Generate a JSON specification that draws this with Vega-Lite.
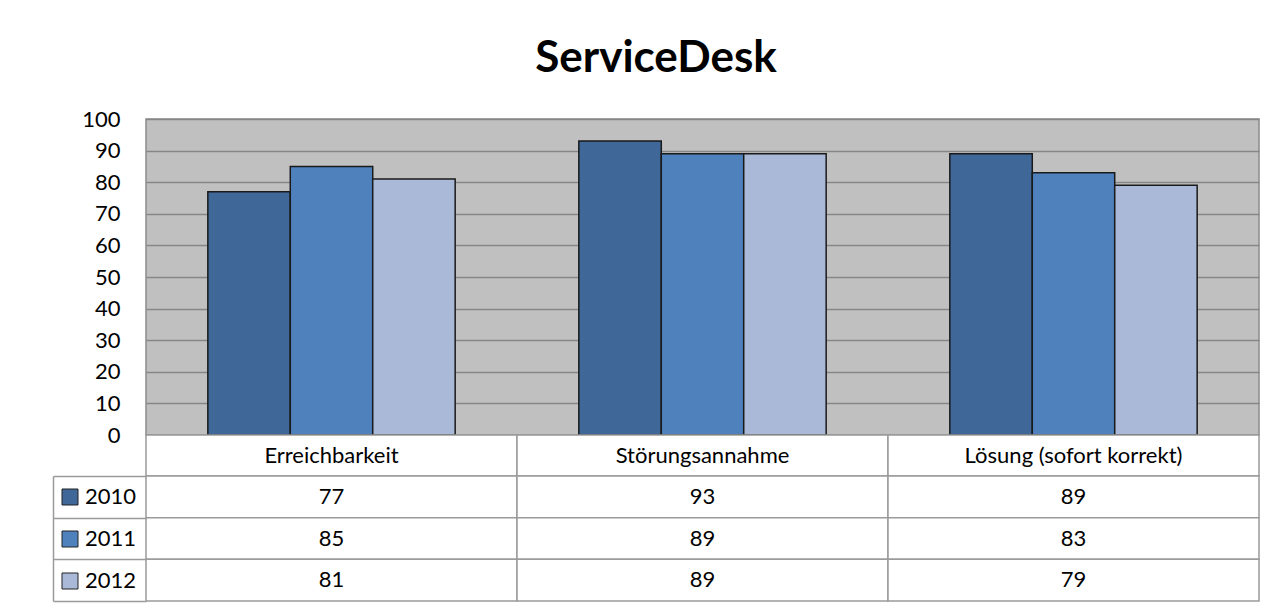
{
  "$schema": "https://vega.github.io/schema/vega-lite/v6.json",
  "background": "white",
  "padding": {"left": 52, "top": 37, "right": 5, "bottom": 5},
  "spacing": 0,
  "bounds": "flush",
  "title": {"text": "ServiceDesk", "fontSize": 44, "font": "Lato", "fontWeight": "bold", "color": "#000000", "anchor": "middle", "offset": 26},
  "datasets": {
    "d": [
      {"category": "Erreichbarkeit", "year": "2010", "value": 77},
      {"category": "Erreichbarkeit", "year": "2011", "value": 85},
      {"category": "Erreichbarkeit", "year": "2012", "value": 81},
      {"category": "Störungsannahme", "year": "2010", "value": 93},
      {"category": "Störungsannahme", "year": "2011", "value": 89},
      {"category": "Störungsannahme", "year": "2012", "value": 89},
      {"category": "Lösung (sofort korrekt)", "year": "2010", "value": 89},
      {"category": "Lösung (sofort korrekt)", "year": "2011", "value": 83},
      {"category": "Lösung (sofort korrekt)", "year": "2012", "value": 79}
    ]
  },
  "vconcat": [
    {
      "width": 1113,
      "height": 316,
      "data": {"name": "d"},
      "view": {"fill": "#C0C0C0", "stroke": "#8a8a8a", "strokeWidth": 1.5},
      "mark": {"type": "bar", "stroke": "#1a1a1a", "strokeWidth": 1.5},
      "encoding": {
        "x": {"field": "category", "type": "nominal", "sort": ["Erreichbarkeit", "Störungsannahme", "Lösung (sofort korrekt)"], "scale": {"paddingInner": 0, "paddingOuter": 0}, "axis": null},
        "xOffset": {"field": "year", "type": "nominal", "sort": ["2010", "2011", "2012"], "scale": {"paddingInner": 0, "paddingOuter": 0.75}},
        "y": {"field": "value", "type": "quantitative", "scale": {"domain": [0, 100], "nice": false},
          "axis": {"title": null, "values": [0, 10, 20, 30, 40, 50, 60, 70, 80, 90, 100], "grid": true, "gridColor": "#868686", "gridWidth": 1.5, "domain": false, "ticks": false, "labelFontSize": 22, "labelFont": "Lato", "labelColor": "#000000", "labelPadding": 26}},
        "color": {"field": "year", "type": "nominal", "scale": {"domain": ["2010", "2011", "2012"], "range": ["#3F6798", "#4F81BD", "#AAB9D7"]},
          "legend": {"orient": "none", "legendX": -87, "legendY": 367, "title": null, "symbolType": "square", "symbolSize": 256, "symbolStrokeColor": "#222222", "symbolStrokeWidth": 1, "symbolOpacity": 1, "labelFontSize": 22, "labelFont": "Lato", "labelColor": "#000000", "labelOffset": 4, "rowPadding": 20, "padding": 0}}
      }
    },
    {
      "width": 1113,
      "height": 41,
      "data": {"name": "d"},
      "transform": [{"filter": "datum.year == '2010'"}],
      "view": {"fill": "white", "stroke": null},
      "encoding": {
        "x": {"field": "category", "type": "nominal", "sort": ["Erreichbarkeit", "Störungsannahme", "Lösung (sofort korrekt)"], "scale": {"paddingInner": 0, "paddingOuter": 0}, "axis": null},
        "y": {"datum": "Kategorie", "type": "nominal", "scale": {"paddingInner": 0, "paddingOuter": 0}, "axis": null}
      },
      "layer": [
        {"mark": {"type": "rect", "fill": "white", "stroke": "#9b9b9b", "strokeWidth": 1.5}},
        {"mark": {"type": "text", "fontSize": 22, "font": "Lato", "color": "#000000"}, "encoding": {"text": {"field": "category"}}}
      ]
    },
    {
      "width": 1113,
      "height": 125,
      "data": {"name": "d"},
      "view": {"fill": "white", "stroke": null},
      "encoding": {
        "x": {"field": "category", "type": "nominal", "sort": ["Erreichbarkeit", "Störungsannahme", "Lösung (sofort korrekt)"], "scale": {"paddingInner": 0, "paddingOuter": 0}, "axis": null},
        "y": {"field": "year", "type": "nominal", "scale": {"domain": ["2010", "2011", "2012"], "paddingInner": 0, "paddingOuter": 0},
          "axis": {"title": null, "labels": false, "offset": 93, "tickSize": -93, "tickBand": "extent", "tickColor": "#9b9b9b", "tickWidth": 1.5, "domainColor": "#9b9b9b", "domainWidth": 1.5}}
      },
      "layer": [
        {"mark": {"type": "rect", "fill": "white", "stroke": "#9b9b9b", "strokeWidth": 1.5}},
        {"mark": {"type": "text", "fontSize": 22, "font": "Lato", "color": "#000000"}, "encoding": {"text": {"field": "value", "type": "quantitative"}}}
      ]
    }
  ]
}
